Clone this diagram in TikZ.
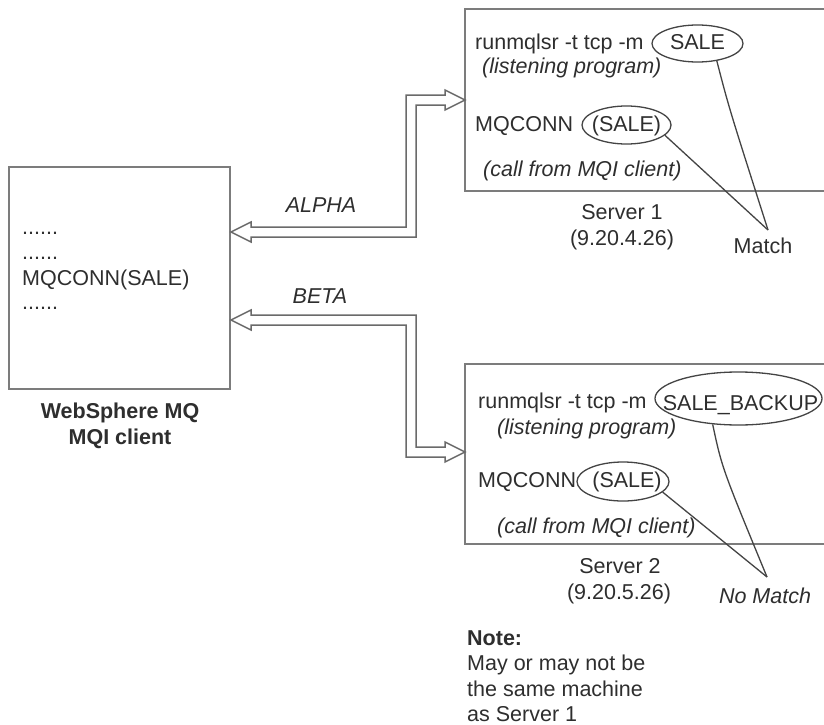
\documentclass[tikz,border=0pt]{standalone}
\usepackage{fontspec}
\setmainfont{Liberation Sans}
\usetikzlibrary{shapes.geometric}
\definecolor{txt}{HTML}{2E2E2E}
\definecolor{boxline}{HTML}{7C7C7C}
\definecolor{arrline}{HTML}{6A6A6A}
\definecolor{thin}{HTML}{444444}
\tikzset{
  lbl/.style={inner sep=0pt, text=txt, font=\fontsize{21.5}{25.5}\selectfont, anchor=base west},
  lblc/.style={lbl, anchor=base},
  it/.style={font=\fontsize{21.5}{25.5}\selectfont\itshape},
  bf/.style={font=\fontsize{21.5}{25.5}\selectfont\bfseries},
  frame/.style={draw=boxline, line width=2.4pt, inner sep=0pt, fill=white},
  oval/.style={ellipse, draw=thin, line width=1.3pt, inner sep=0pt},
  hollow/.style={draw=arrline, line width=1.5pt, fill=white, line join=miter},
  tie/.style={draw=thin, line width=1.3pt}
}
\begin{document}
\begin{tikzpicture}[x=1pt, y=-1pt]
\useasboundingbox[fill=white] (0,0) rectangle (824,725);

% client box
\node[frame, minimum width=221pt, minimum height=222pt] (client) at (119.5,278) {};
\node[lbl] (d1) at (22,234) {......};
\node[lbl] (d2) at (22,259) {......};
\node[lbl] (mq) at (22,285) {MQCONN(SALE)};
\node[lbl] (d3) at (22,309) {......};
\node[lblc, bf] (ws1) at (120,418) {WebSphere MQ};
\node[lblc, bf] (ws2) at (120,444) {MQI client};

% server boxes (right edges run off the page)
\node[frame, minimum width=380pt, minimum height=182pt] (s1) at (655,100) {};
\node[frame, minimum width=380pt, minimum height=180pt] (s2) at (655,454) {};

% hollow double arrows
\draw[hollow] (231,232) -- (251,222) -- (251,227) -- (406,227) -- (406,95) -- (445,95) -- (445,90)
  -- (465,100) -- (445,110) -- (445,105) -- (416,105) -- (416,237) -- (251,237) -- (251,242) -- cycle;
\draw[hollow] (231,320) -- (251,310) -- (251,315) -- (416,315) -- (416,447) -- (445,447) -- (445,442)
  -- (465,452) -- (445,462) -- (445,457) -- (406,457) -- (406,325) -- (251,325) -- (251,330) -- cycle;
\node[lblc, it] (alpha) at (321,212) {ALPHA};
\node[lblc, it] (beta) at (320,303) {BETA};

% server 1 content
\node[lbl] (r1) at (475,50) {runmqlsr -t tcp -m};
\node[lblc] (sale1t) at (697.5,50) {SALE};
\node[oval, minimum width=91pt, minimum height=37pt] (sale1) at (697.5,43.5) {};
\node[lbl, it] (lp1) at (482,74) {(listening program)};
\node[lbl] (mc1) at (475,131) {MQCONN};
\node[lblc] (c1t) at (626.5,131) {(SALE)};
\node[oval, minimum width=89pt, minimum height=38pt] (c1) at (626.5,125) {};
\node[lbl, it] (cf1) at (483,176) {(call from MQI client)};
\node[lblc] (sv1) at (622,219) {Server 1};
\node[lblc] (ip1) at (622,245) {(9.20.4.26)};
\node[lblc] (match) at (763,253) {Match};
\coordinate (m1) at (768,230);
\draw[tie] (sale1.-42) .. controls (729,108) .. (m1);
\draw[tie] (c1.-15) -- (m1);

% server 2 content
\node[lbl] (r2) at (478,408) {runmqlsr -t tcp -m};
\node[lblc] (sale2t) at (740.5,410) {SALE\_BACKUP};
\node[oval, minimum width=167pt, minimum height=53pt] (sale2) at (738.5,398.5) {};
\node[lbl, it] (lp2) at (497,434) {(listening program)};
\node[lbl] (mc2) at (478,487) {MQCONN};
\node[lblc] (c2t) at (627,487) {(SALE)};
\node[oval, minimum width=92pt, minimum height=39pt] (c2) at (623,481.5) {};
\node[lbl, it] (cf2) at (497,533) {(call from MQI client)};
\node[lblc] (sv2) at (620,573) {Server 2};
\node[lblc] (ip2) at (619,599) {(9.20.5.26)};
\node[lblc, it] (nomatch) at (765,603) {No Match};
\coordinate (m2) at (767,577);
\draw[tie] (sale2.-135) .. controls (722,468) .. (m2);
\draw[tie] (c2.-15) -- (m2);

% note
\node[lbl, bf] (note) at (467,645) {Note:};
\node[lbl] (n1) at (467,670) {May or may not be};
\node[lbl] (n2) at (467,696) {the same machine};
\node[lbl] (n3) at (467,721) {as Server 1};
\end{tikzpicture}
\end{document}
